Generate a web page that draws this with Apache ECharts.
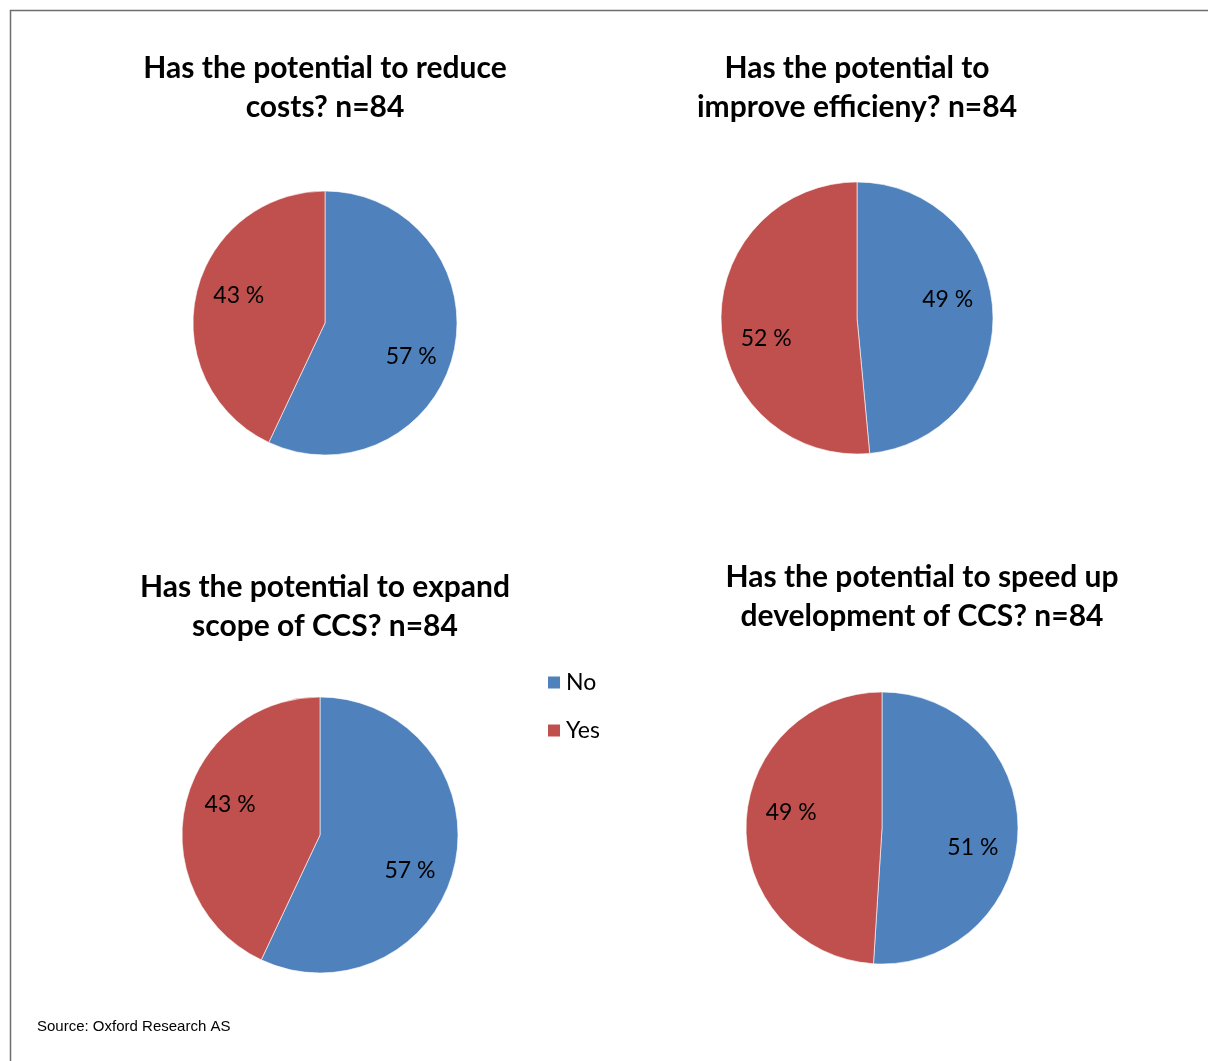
<!DOCTYPE html>
<html>
<head>
<meta charset="utf-8">
<script src="https://cdn.jsdelivr.net/npm/echarts@6/dist/echarts.min.js"></script>
<style>
  html, body { margin: 0; padding: 0; background: #fff; }
  #chart { width: 1208px; height: 1061px; }
</style>
</head>
<body>
<div id="chart"></div>
<script>
// categories and values
var categories = ['No', 'Yes'];
var pieTitles = [
    'Has the potential to reduce\ncosts? n=84',
    'Has the potential to\nimprove efficieny? n=84',
    'Has the potential to expand\nscope of CCS? n=84',
    'Has the potential to speed up\ndevelopment of CCS? n=84'
];
var noValues  = [57, 49, 57, 51];
var yesValues = [43, 52, 43, 49];
var sourceText = 'Source: Oxford Research AS';

// layout of each pie (pixels)
var pieCenters = [[325, 323], [857, 318], [320, 835], [882, 828]];
var pieRadius  = [132, 136, 138, 136];
var titlePos   = [[325, 49], [857, 49], [325, 568], [922, 558]];
// vertical nudge of the No / Yes labels, like Excel's best fit
var labelNudge = [[14, -8], [-14, 16], [15, -10], [17, -13]];
var colors = ['#4F81BD', '#C0504D'];
var labelPush = 1.28;

var chart = echarts.init(document.getElementById('chart'));

var titles = pieTitles.map(function (t, i) {
    return {
        text: t,
        left: titlePos[i][0],
        top: titlePos[i][1],
        padding: 0,
        textAlign: 'center',
        textStyle: {
            fontFamily: 'Lato',
            fontSize: 30,
            fontWeight: 'bold',
            lineHeight: 39,
            color: '#000'
        }
    };
});

var series = pieTitles.map(function (t, i) {
    var c = pieCenters[i];
    return {
        type: 'pie',
        name: t,
        center: c,
        radius: [0, pieRadius[i]],
        startAngle: 90,
        clockwise: true,
        animation: false,
        silent: true,
        itemStyle: { borderColor: '#fff', borderWidth: 0.6 },
        label: {
            show: true,
            position: 'inside',
            formatter: '{c} %',
            fontFamily: 'Lato',
            fontSize: 23,
            color: '#000'
        },
        labelLayout: function (p) {
            var lx = p.labelRect.x + p.labelRect.width / 2;
            var ly = p.labelRect.y + p.labelRect.height / 2;
            return {
                x: c[0] + (lx - c[0]) * labelPush,
                y: c[1] + (ly - c[1]) * labelPush + labelNudge[i][p.dataIndex]
            };
        },
        data: [
            { name: categories[0], value: noValues[i] },
            { name: categories[1], value: yesValues[i] }
        ]
    };
});

chart.setOption({
    color: colors,
    title: titles,
    legend: {
        orient: 'vertical',
        left: 546,
        top: 671,
        padding: 0,
        icon: 'rect',
        itemWidth: 14,
        itemHeight: 14,
        itemGap: 25,
        data: categories,
        textStyle: { fontFamily: 'Lato', fontSize: 23, color: '#000' }
    },
    graphic: [
        {
            type: 'rect',
            shape: { x: 10.5, y: 10.5, width: 1300, height: 1200 },
            style: { fill: 'none', stroke: '#6e6e6e', lineWidth: 1.5 },
            silent: true
        },
        {
            type: 'text',
            left: 37,
            top: 1019,
            style: {
                text: sourceText,
                font: '15px "Liberation Sans"',
                fill: '#000'
            }
        }
    ],
    series: series
});
</script>
</body>
</html>
